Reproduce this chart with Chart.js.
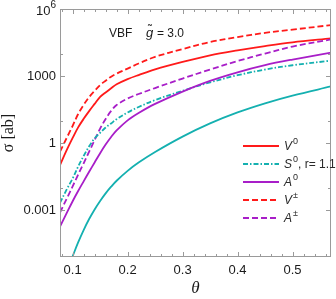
<!DOCTYPE html>
<html>
<head>
<meta charset="utf-8">
<script src="https://cdn.jsdelivr.net/npm/chart.js@4"></script>
<style>
  html, body { margin: 0; padding: 0; background: #fff; }
  #wrap { width: 336px; height: 299px; position: relative; }
</style>
</head>
<body>
<div id="wrap"><canvas id="myChart"></canvas></div>
<script>
// theta grid and cross sections [ab]
const theta = [0.077, 0.09, 0.1, 0.11, 0.12, 0.13, 0.14, 0.15, 0.16, 0.17, 0.18, 0.2, 0.22, 0.25, 0.3, 0.35, 0.4, 0.45, 0.5, 0.57];
const vZero = [0.107, 0.546, 1.74, 5.13, 12.4, 27.4, 57.4, 119, 187, 288, 431, 735, 1120, 2010, 4350, 8570, 14200, 22100, 32600, 48700];
const sZero = [2.16e-3, 9.5e-3, 0.0269, 0.0912, 0.269, 0.735, 1.66, 2.94, 5.07, 7.73, 11.9, 23.9, 41.8, 85.7, 221, 528, 1100, 1970, 3070, 4920];
const aZero = [1.91e-4, 8.32e-4, 2.58e-3, 7.35e-3, 0.0199, 0.0535, 0.139, 0.361, 0.875, 1.91, 3.77, 10.6, 22.5, 57.4, 205, 617, 1490, 3100, 5510, 11300];
const vCharged = [0.42, 1.91, 6.0, 20.3, 52, 116, 221, 400, 624, 950, 1290, 2180, 3660, 7280, 16200, 33300, 55700, 85700, 120000, 191000];
const aCharged = [8.05e-4, 3.69e-3, 0.0119, 0.0396, 0.128, 0.422, 1.39, 4.53, 12.2, 27.9, 51.3, 100, 159, 294, 782, 1970, 4720, 10200, 20900, 44000];
const sLow = [3.5e-7, 2.2e-6, 9.0e-6, 3.72e-5, 1.33e-4, 4.13e-4, 1.11e-3, 2.65e-3, 5.8e-3, 0.0115, 0.0212, 0.0586, 0.1375, 0.409, 1.99, 7.73, 23.9, 61.1, 135, 347];

const xTicks = [0.1, 0.2, 0.3, 0.4, 0.5];
const xMinor = [0.08, 0.12, 0.14, 0.16, 0.18, 0.22, 0.24, 0.26, 0.28, 0.32, 0.34, 0.36, 0.38, 0.42, 0.44, 0.46, 0.48, 0.52, 0.54, 0.56];
const yTicks = [1e-3, 1, 1e3, 1e6];
const yTickLabels = ['0.001', '1', '1000', '10^6'];
const yMinor = [1e-2, 10, 1e4];

const RED = '#ff1a1a';
const CYAN = '#14b0b0';
const PURPLE = '#a81ec8';

const SANS = '"Liberation Sans", Arial, sans-serif';
const SERIF = '"Liberation Serif", "Times New Roman", serif';

function pts(arr) {
  return theta.map((t, i) => ({ x: t, y: arr[i] }));
}

function ds(data, color, dash, legend) {
  return {
    data: pts(data),
    borderColor: color,
    borderWidth: 1.8,
    borderDash: dash,
    pointRadius: 0,
    fill: false,
    tension: 0.35,
    legendParts: legend
  };
}

// label pieces: [text, kind] kind: i = italic, s = superscript, n = normal
const datasets = [
  ds(sLow, CYAN, [], null),
  ds(aZero, PURPLE, [], [['A', 'i'], ['0', 's']]),
  ds(sZero, CYAN, [5, 2, 1.5, 2], [['S', 'i'], ['0', 's'], [', r= 1.1', 'n']]),
  ds(aCharged, PURPLE, [6, 3], [['A', 'i'], ['\u00b1', 's']]),
  ds(vZero, RED, [], [['V', 'i'], ['0', 's']]),
  ds(vCharged, RED, [6, 3], [['V', 'i'], ['\u00b1', 's']])
];
const legendOrder = [4, 2, 1, 5, 3];

function drawParts(ctx, x, y, parts, size) {
  ctx.textBaseline = 'middle';
  ctx.textAlign = 'left';
  parts.forEach(([t, k]) => {
    let dy = 0;
    if (k === 'i') ctx.font = 'italic ' + size + 'px ' + SANS;
    else if (k === 's') { ctx.font = (size - 3) + 'px ' + SANS; dy = -5; }
    else ctx.font = size + 'px ' + SANS;
    ctx.fillText(t, x, y + dy);
    x += ctx.measureText(t).width + (k === 'i' ? 1 : 0);
  });
}

const frame = {
  id: 'frame',
  afterDraw(chart) {
    const ctx = chart.ctx;
    const a = chart.chartArea;
    const xs = chart.scales.x, ys = chart.scales.y;
    ctx.save();
    ctx.strokeStyle = '#9a9a9a';
    ctx.lineWidth = 1;
    ctx.strokeRect(a.left + 0.5, a.top + 0.5, a.right - a.left - 1, a.bottom - a.top - 1);
    ctx.beginPath();
    const tickX = (v, len) => {
      const p = Math.round(xs.getPixelForValue(v)) + 0.5;
      ctx.moveTo(p, a.bottom); ctx.lineTo(p, a.bottom - len);
      ctx.moveTo(p, a.top); ctx.lineTo(p, a.top + len);
    };
    const tickY = (v, len) => {
      const p = Math.round(ys.getPixelForValue(v)) + 0.5;
      ctx.moveTo(a.left, p); ctx.lineTo(a.left + len, p);
      ctx.moveTo(a.right, p); ctx.lineTo(a.right - len, p);
    };
    xTicks.forEach(v => tickX(v, 5));
    xMinor.forEach(v => tickX(v, 3));
    yTicks.forEach(v => tickY(v, 5));
    yMinor.forEach(v => tickY(v, 3));
    ctx.stroke();

    // tick labels
    ctx.fillStyle = '#1a1a1a';
    ctx.font = '13px ' + SANS;
    ctx.textAlign = 'center';
    ctx.textBaseline = 'middle';
    xTicks.forEach(v => ctx.fillText(String(v), xs.getPixelForValue(v), a.bottom + 13));
    ctx.textAlign = 'right';
    yTicks.forEach((v, i) => {
      const y = ys.getPixelForValue(v);
      const lab = yTickLabels[i];
      if (lab.includes('^')) {
        const [b, e] = lab.split('^');
        ctx.font = '10px ' + SANS;
        ctx.fillText(e, 56, y - 4);
        const ew = ctx.measureText(e).width;
        ctx.font = '13px ' + SANS;
        ctx.fillText(b, 56 - ew, y + 2);
      } else {
        ctx.font = '13px ' + SANS;
        ctx.fillText(lab, 56, y);
      }
    });

    // axis titles
    ctx.textAlign = 'center';
    ctx.font = 'italic 17px ' + SERIF;
    ctx.fillText('\u03b8', (a.left + a.right) / 2, 289);
    ctx.save();
    ctx.translate(9, (a.top + a.bottom) / 2);
    ctx.rotate(-Math.PI / 2);
    ctx.font = '16px ' + SERIF;
    ctx.fillText('\u03c3 [ab]', 0, 0);
    ctx.restore();

    // annotation
    ctx.textAlign = 'left';
    ctx.font = '12px ' + SANS;
    ctx.fillText('VBF', 109, 34);
    ctx.font = 'italic 13px ' + SANS;
    ctx.fillText('g', 146, 33);
    ctx.font = '12px ' + SANS;
    ctx.fillText('\u02dc', 148, 31);
    ctx.fillText('= 3.0', 157, 34);

    // legend
    legendOrder.forEach((di, r) => {
      const d = chart.data.datasets[di];
      const y = 146 + r * 18;
      ctx.strokeStyle = d.borderColor;
      ctx.lineWidth = 1.8;
      ctx.setLineDash(d.borderDash);
      ctx.beginPath();
      ctx.moveTo(243, y); ctx.lineTo(279, y);
      ctx.stroke();
      ctx.setLineDash([]);
      ctx.fillStyle = '#2a2a2a';
      drawParts(ctx, 284, y + 1, d.legendParts, 12);
    });
    ctx.restore();
  }
};

new Chart(document.getElementById('myChart'), {
  type: 'line',
  data: { datasets: datasets },
  options: {
    responsive: true,
    maintainAspectRatio: false,
    animation: false,
    events: [],
    layout: { padding: { top: 9, right: 5, left: 0, bottom: 0 } },
    plugins: { legend: { display: false }, tooltip: { enabled: false } },
    scales: {
      x: {
        type: 'linear', min: 0.077, max: 0.57,
        grid: { display: false }, border: { display: false },
        ticks: { display: false },
        afterFit: s => { s.height = 42; }
      },
      y: {
        type: 'logarithmic', min: 8.3e-6, max: 1e6,
        grid: { display: false }, border: { display: false },
        ticks: { display: false },
        afterFit: s => { s.width = 60; }
      }
    }
  },
  plugins: [frame]
});
</script>
</body>
</html>
